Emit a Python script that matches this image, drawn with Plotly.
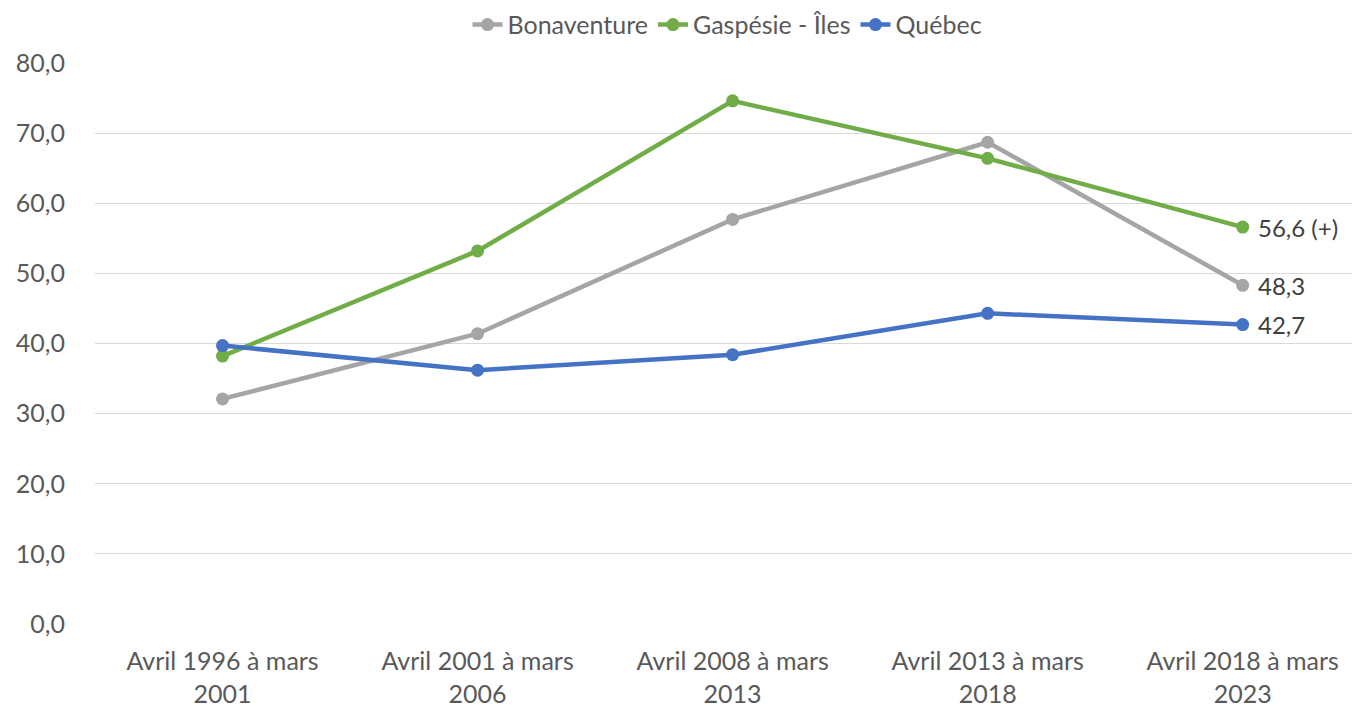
import plotly.graph_objects as go

categories = ["Avril 1996 à mars<br>2001", "Avril 2001 à mars<br>2006",
              "Avril 2008 à mars<br>2013", "Avril 2013 à mars<br>2018",
              "Avril 2018 à mars<br>2023"]
bonaventure = [32.1, 41.4, 57.7, 68.7, 48.3]
gaspesie = [38.2, 53.2, 74.6, 66.4, 56.6]
quebec = [39.7, 36.2, 38.4, 44.3, 42.7]
last_suffix = {"Bonaventure": "", "Gaspésie - Îles": " (+)", "Québec": ""}
y_ticks = [0, 10, 20, 30, 40, 50, 60, 70, 80]

series = [("Bonaventure", bonaventure, "#A5A5A5"),
          ("Gaspésie - Îles", gaspesie, "#70AD47"),
          ("Québec", quebec, "#4472C4")]

FONT = "Lato, 'Open Sans', sans-serif"
FS = 25
fig = go.Figure()
xs = list(range(len(categories)))
for name, vals, color in series:
    fig.add_trace(go.Scatter(
        x=xs, y=vals, name=name, mode="lines+markers",
        line=dict(color=color, width=4.5), marker=dict(size=13, color=color),
        cliponaxis=False,
    ))
    fig.add_annotation(x=xs[-1], y=vals[-1],
                       text=f"{vals[-1]:.1f}".replace(".", ",") + last_suffix[name],
                       showarrow=False, xanchor="left", yanchor="middle", xshift=13,
                       font=dict(size=24, color="#404040", family=FONT))

fig.update_layout(
    width=1360, height=709, paper_bgcolor="white", plot_bgcolor="white",
    margin=dict(l=87, r=8, t=55, b=93, autoexpand=False),
    separators=", ",
    font=dict(family=FONT, size=FS, color="#595959"),
    legend=dict(orientation="h", x=0.5, xanchor="center", y=1.068, yanchor="middle",
                yref="paper", font=dict(size=FS, color="#595959"),
                traceorder="normal", itemwidth=30),
    showlegend=True,
)
fig.update_xaxes(tickmode="array", tickvals=xs,
                 ticktext=categories, range=[-0.5, 4.46], showgrid=False,
                 zeroline=False, showline=False, ticks="", ticklabelstandoff=20,
                 tickfont=dict(size=FS, color="#595959"))
fig.update_yaxes(range=[0, 80], tickvals=y_ticks, tickformat=".1f",
                 showgrid=True, gridcolor="#D9D9D9", gridwidth=1.3,
                 zeroline=False, showline=False, ticks="", ticklabelstandoff=29,
                 tickfont=dict(size=FS, color="#595959"))
fig.write_html("out.html")
